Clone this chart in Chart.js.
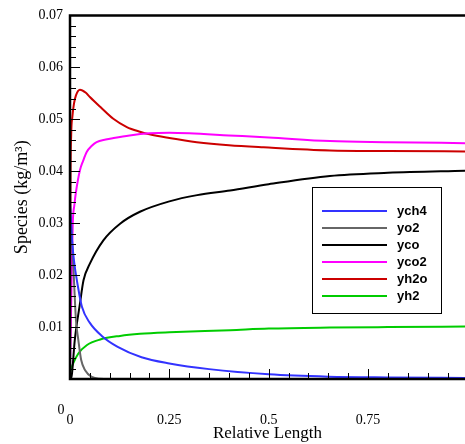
<!DOCTYPE html>
<html>
<head>
<meta charset="UTF-8">
<title>Species</title>
<script src="https://cdn.jsdelivr.net/npm/chart.js"></script>
<style>
  html, body { margin: 0; padding: 0; background: #fff; }
</style>
</head>
<body>
<canvas id="c" width="465" height="444"></canvas>
<script>
// tick values / labels
const xTickValues = [0, 0.25, 0.5, 0.75];
const xTickLabels = ['0', '0.25', '0.5', '0.75'];
const yTickValues = [0, 0.01, 0.02, 0.03, 0.04, 0.05, 0.06, 0.07];
const yTickLabels = ['0', '0.01', '0.02', '0.03', '0.04', '0.05', '0.06', '0.07'];

// series
const seriesNames = ['ych4', 'yo2', 'yco', 'yco2', 'yh2o', 'yh2'];

const xCh4 = [0, 0.005, 0.01, 0.02, 0.03, 0.05, 0.08, 0.12, 0.18, 0.25, 0.35, 0.5, 0.65, 0.8, 1.0];
const yCh4 = [0.034, 0.027, 0.0228, 0.0178, 0.0139, 0.0108, 0.0083, 0.0062, 0.0042, 0.003, 0.0019, 0.0009, 0.00045, 0.0003, 0.0002];

const xO2 = [0, 0.003, 0.006, 0.01, 0.015, 0.021, 0.028, 0.038, 0.055, 0.075, 0.1, 1.0];
const yO2 = [0.033, 0.0295, 0.0254, 0.019, 0.0113, 0.0075, 0.0037, 0.0017, 0.0004, 0.00005, 0, 0];

const xCo = [0, 0.004, 0.012, 0.025, 0.034, 0.05, 0.084, 0.126, 0.176, 0.25, 0.32, 0.403, 0.5, 0.654, 0.8, 1.0];
const yCo = [0, 0.0005, 0.0075, 0.0145, 0.019, 0.0222, 0.0267, 0.0299, 0.0322, 0.0342, 0.0354, 0.0363, 0.0375, 0.0391, 0.0397, 0.0401];

const xCo2 = [0, 0.004, 0.007, 0.011, 0.015, 0.025, 0.033, 0.042, 0.055, 0.067, 0.09, 0.11, 0.15, 0.2, 0.25, 0.3, 0.4, 0.5, 0.654, 0.8, 1.0];
const yCo2 = [0.001, 0.019, 0.03, 0.0335, 0.036, 0.0402, 0.042, 0.0437, 0.0449, 0.0456, 0.0461, 0.0464, 0.0469, 0.0473, 0.0474, 0.0473, 0.0469, 0.0465, 0.0458, 0.0456, 0.0454];

const xH2o = [0, 0.001, 0.003, 0.006, 0.01, 0.015, 0.025, 0.04, 0.05, 0.076, 0.109, 0.143, 0.176, 0.2, 0.25, 0.319, 0.4, 0.487, 0.654, 0.8, 1.0];
const yH2o = [0.002, 0.035, 0.047, 0.0505, 0.053, 0.0546, 0.0557, 0.0551, 0.0543, 0.0524, 0.0501, 0.0485, 0.0476, 0.0471, 0.0464, 0.0456, 0.045, 0.0446, 0.044, 0.0439, 0.0438];

const xH2 = [0, 0.003, 0.008, 0.021, 0.042, 0.076, 0.126, 0.176, 0.25, 0.403, 0.5, 0.654, 0.8, 1.0];
const yH2 = [0.0012, 0.002, 0.003, 0.0049, 0.0065, 0.0076, 0.0083, 0.0087, 0.009, 0.0094, 0.0097, 0.0099, 0.01, 0.0101];

const colors = ['#3333ff', '#666666', '#000000', '#ff00ff', '#cc0000', '#00cc00'];

const xs = [xCh4, xO2, xCo, xCo2, xH2o, xH2];
const ys = [yCh4, yO2, yCo, yCo2, yH2o, yH2];

const datasets = seriesNames.map((name, i) => ({
  label: name,
  data: xs[i].map((x, j) => ({ x: x, y: ys[i][j] })),
  borderColor: colors[i],
  borderWidth: 2,
  pointRadius: 0,
  fill: false,
  cubicInterpolationMode: 'monotone'
}));

const serif = 'Liberation Serif, Times New Roman, serif';

// axes, inward ticks, the odd "0" label and the boxed legend
const frame = {
  id: 'frame',
  afterDatasetsDraw(chart) {
    const ctx = chart.ctx;
    const a = chart.chartArea;
    const xs = chart.scales.x, ysc = chart.scales.y;
    ctx.save();
    ctx.strokeStyle = '#000';
    ctx.lineWidth = 1;
    // y ticks
    for (let v = 0; v <= 0.07 + 1e-9; v += 0.002) {
      const py = Math.round(ysc.getPixelForValue(v)) + 0.5;
      const major = Math.abs(v * 100 - Math.round(v * 100)) < 1e-6;
      ctx.beginPath();
      ctx.moveTo(a.left, py);
      ctx.lineTo(a.left + (major ? 10 : 6), py);
      ctx.stroke();
    }
    // x ticks
    for (let v = 0; v <= xs.max; v += 0.05) {
      const px = Math.round(xs.getPixelForValue(v)) + 0.5;
      const major = Math.abs(v * 4 - Math.round(v * 4)) < 1e-6;
      ctx.beginPath();
      ctx.moveTo(px, a.bottom);
      ctx.lineTo(px, a.bottom - (major ? 10 : 6));
      ctx.stroke();
    }
    // axis lines
    ctx.lineWidth = 2.5;
    ctx.beginPath();
    ctx.moveTo(chart.width, a.top);
    ctx.lineTo(a.left, a.top);
    ctx.lineTo(a.left, a.bottom);
    ctx.lineTo(chart.width, a.bottom);
    ctx.stroke();

    // y-axis zero label, sits below the axis in the original
    ctx.fillStyle = '#000';
    ctx.font = '14px ' + serif;
    ctx.textAlign = 'center';
    ctx.textBaseline = 'middle';
    ctx.fillText(yTickLabels[0], 61, 410);

    // legend
    const bx = 312, by = 187, bw = 129, bh = 126;
    ctx.fillStyle = '#fff';
    ctx.fillRect(bx, by, bw, bh);
    ctx.lineWidth = 1;
    ctx.strokeStyle = '#000';
    ctx.strokeRect(bx + 0.5, by + 0.5, bw, bh);
    ctx.font = 'bold 13px Liberation Sans, Arial, sans-serif';
    ctx.textAlign = 'left';
    chart.data.datasets.forEach((ds, i) => {
      const ly = 211 + i * 17;
      ctx.strokeStyle = ds.borderColor;
      ctx.lineWidth = 2;
      ctx.beginPath();
      ctx.moveTo(322, ly);
      ctx.lineTo(387, ly);
      ctx.stroke();
      ctx.fillStyle = '#000';
      ctx.fillText(ds.label, 397, ly);
    });
    ctx.restore();
  }
};

new Chart(document.getElementById('c'), {
  type: 'line',
  data: { datasets: datasets },
  options: {
    responsive: false,
    animation: false,
    layout: { padding: { top: 15, left: 0, right: 0, bottom: 0 } },
    plugins: { legend: { display: false }, tooltip: { enabled: false } },
    scales: {
      x: {
        type: 'linear',
        min: 0,
        max: 0.994,
        afterBuildTicks: s => { s.ticks = xTickValues.map(v => ({ value: v })); },
        afterFit: s => { s.height = 65; },
        grid: { display: false, drawTicks: false },
        border: { display: false },
        ticks: {
          color: '#000',
          font: { family: serif, size: 14 },
          padding: 33,
          maxRotation: 0,
          autoSkip: false,
          callback: (v, i) => xTickLabels[i]
        },
        title: {
          display: true,
          text: 'Relative Length',
          color: '#000',
          font: { family: serif, size: 17 },
          padding: { top: 0, bottom: 0 }
        }
      },
      y: {
        type: 'linear',
        min: 0,
        max: 0.07,
        afterBuildTicks: s => { s.ticks = yTickValues.map(v => ({ value: v })); },
        afterFit: s => { s.width = 70; },
        grid: { display: false, drawTicks: false },
        border: { display: false },
        ticks: {
          color: '#000',
          font: { family: serif, size: 14 },
          padding: 7,
          autoSkip: false,
          callback: (v, i) => (i === 0 ? '' : yTickLabels[i])
        },
        title: {
          display: true,
          text: 'Species (kg/m³)',
          color: '#000',
          font: { family: serif, size: 18 },
          padding: { top: 11, bottom: 0 }
        }
      }
    }
  },
  plugins: [frame]
});
</script>
</body>
</html>
